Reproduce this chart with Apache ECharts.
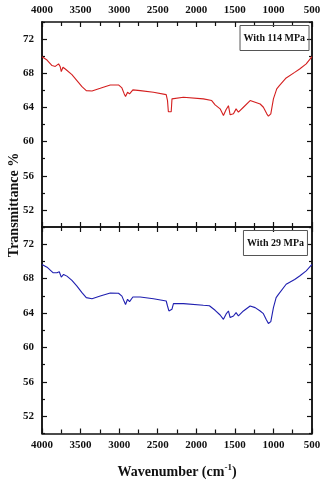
<!DOCTYPE html>
<html>
<head>
<meta charset="utf-8">
<script src="https://cdn.jsdelivr.net/npm/echarts@6/dist/echarts.min.js"></script>
<style>
  html, body { margin: 0; padding: 0; background: #fff; }
  #chart-root { width: 328px; height: 480px; }
</style>
</head>
<body>
<div id="chart-root"></div>
<script>
// 114 MPa sample (red), wavenumber / transmittance
let redWn = [4000, 3935, 3870, 3828, 3785, 3765, 3750, 3728, 3698, 3612, 3547, 3482, 3426, 3352, 3245, 3115, 3008, 2964, 2934, 2917, 2891, 2865, 2822, 2727, 2555, 2390, 2373, 2362, 2352, 2345, 2338, 2325, 2315, 2296, 2167, 1908, 1800, 1756, 1691, 1648, 1613, 1583, 1561, 1518, 1484, 1454, 1389, 1302, 1237, 1172, 1130, 1086, 1065, 1034, 1000, 957, 923, 835, 725, 660, 575, 500]
let redT = [69.93, 69.55, 68.9, 68.8, 69.1, 68.8, 68.2, 68.7, 68.5, 67.83, 67.13, 66.43, 65.97, 65.93, 66.24, 66.63, 66.63, 66.28, 65.58, 65.27, 65.77, 65.58, 66.05, 65.97, 65.77, 65.5, 64.8, 63.5, 63.3, 63.6, 63.3, 63.5, 65.0, 65.07, 65.19, 65.0, 64.8, 64.3, 63.83, 63.05, 63.75, 64.2, 63.13, 63.25, 63.83, 63.44, 64.02, 64.8, 64.6, 64.4, 64.02, 63.25, 62.97, 63.25, 65.0, 66.17, 66.55, 67.45, 68.1, 68.5, 69.1, 69.95]

// 29 MPa sample (blue)
let blueWn = [4000, 3935, 3858, 3806, 3776, 3750, 3720, 3677, 3612, 3547, 3482, 3426, 3352, 3245, 3115, 3008, 2964, 2934, 2917, 2891, 2865, 2822, 2727, 2555, 2390, 2373, 2355, 2340, 2316, 2296, 2167, 1908, 1830, 1756, 1691, 1648, 1613, 1583, 1561, 1518, 1484, 1454, 1389, 1302, 1237, 1172, 1130, 1095, 1065, 1034, 1000, 965, 935, 835, 725, 660, 575, 500]
let blueT = [69.65, 69.33, 68.69, 68.69, 68.8, 68.18, 68.49, 68.29, 67.79, 67.13, 66.37, 65.79, 65.67, 65.97, 66.32, 66.3, 65.97, 65.33, 65.0, 65.6, 65.33, 65.86, 65.86, 65.67, 65.4, 64.82, 64.24, 64.35, 64.43, 65.09, 65.09, 64.9, 64.85, 64.32, 63.77, 63.27, 63.9, 64.24, 63.47, 63.66, 64.05, 63.66, 64.24, 64.82, 64.63, 64.24, 63.93, 63.27, 62.78, 63.0, 64.63, 65.79, 66.17, 67.35, 67.9, 68.3, 68.9, 69.65]

let yMajor = [52, 56, 60, 64, 68, 72]
let yMinor = [50, 54, 58, 62, 66, 70, 74]
let labels = ['With 114 MPa', 'With 29 MPa']

let font = 'Liberation Serif, Times New Roman, serif'
let zip = (xs, ys) => xs.map((x, i) => [x, ys[i]])

let chart = echarts.init(document.getElementById('chart-root'))

let xAxisFor = (grid, position, showLabel) => ({
  type: 'value',
  gridIndex: grid,
  position: position,
  inverse: true,
  min: 500,
  max: 4000,
  interval: 500,
  axisLine: { lineStyle: { color: '#111', width: 1.5 } },
  axisTick: { inside: true, length: 5, lineStyle: { color: '#111', width: 1.2 } },
  minorTick: { show: true, splitNumber: 2, length: 4, lineStyle: { color: '#111', width: 1.2 } },
  axisLabel: {
    show: showLabel,
    margin: 6,
    color: '#111',
    fontFamily: font,
    fontWeight: 'bold',
    fontSize: 11,
    formatter: v => String(v)
  },
  splitLine: { show: false }
})

let yAxisFor = (grid, position, values, len, showLabel) => ({
  type: 'value',
  gridIndex: grid,
  position: position,
  min: 50,
  max: 74,
  axisLine: { show: true, lineStyle: { color: '#111', width: 1.5 } },
  axisTick: { inside: true, length: len, customValues: values, lineStyle: { color: '#111', width: 1.2 } },
  axisLabel: {
    show: showLabel,
    customValues: values,
    margin: 8,
    color: '#111',
    fontFamily: font,
    fontWeight: 'bold',
    fontSize: 11
  },
  splitLine: { show: false }
})

let bottomX = xAxisFor(1, 'bottom', true)
bottomX.name = 'Wavenumber (cm{sup|-1})'
bottomX.nameLocation = 'middle'
bottomX.nameGap = 30
bottomX.nameTextStyle = {
  color: '#111',
  fontFamily: font,
  fontWeight: 'bold',
  fontSize: 14,
  rich: {
    sup: { fontFamily: font, fontWeight: 'bold', fontSize: 9, verticalAlign: 'top', padding: [0, 0, 8, 0] }
  }
}

let boxTitle = (text, right, top) => ({
  text: text,
  right: right,
  top: top,
  padding: [8, 4],
  borderColor: '#555',
  borderWidth: 1,
  textStyle: { color: '#111', fontFamily: font, fontWeight: 'bold', fontSize: 10 }
})

let option = {
  animation: false,
  backgroundColor: '#fff',
  title: [boxTitle(labels[0], 19, 25), boxTitle(labels[1], 20, 230)],
  graphic: [{
    type: 'text',
    x: 14,
    y: 205,
    rotation: Math.PI / 2,
    style: {
      text: 'Transmittance %',
      fill: '#111',
      font: 'bold 14px ' + font,
      align: 'center',
      verticalAlign: 'middle'
    }
  }],
  grid: [
    { left: 42, top: 22, width: 270, height: 205 },
    { left: 42, top: 227, width: 270, height: 207 }
  ],
  xAxis: [
    xAxisFor(0, 'top', true),
    xAxisFor(0, 'bottom', false),
    xAxisFor(1, 'top', false),
    bottomX
  ],
  yAxis: [
    yAxisFor(0, 'left', yMajor, 5, true),
    yAxisFor(0, 'right', yMajor, 5, false),
    yAxisFor(0, 'left', yMinor, 3, false),
    yAxisFor(0, 'right', yMinor, 3, false),
    yAxisFor(1, 'left', yMajor, 5, true),
    yAxisFor(1, 'right', yMajor, 5, false),
    yAxisFor(1, 'left', yMinor, 3, false),
    yAxisFor(1, 'right', yMinor, 3, false)
  ],
  series: [
    {
      name: labels[0],
      type: 'line',
      xAxisIndex: 0,
      yAxisIndex: 0,
      showSymbol: false,
      lineStyle: { color: '#d41f1f', width: 1.1 },
      data: zip(redWn, redT)
    },
    {
      name: labels[1],
      type: 'line',
      xAxisIndex: 3,
      yAxisIndex: 4,
      showSymbol: false,
      lineStyle: { color: '#1f1fb0', width: 1.1 },
      data: zip(blueWn, blueT)
    }
  ]
}

chart.setOption(option)
</script>
</body>
</html>
